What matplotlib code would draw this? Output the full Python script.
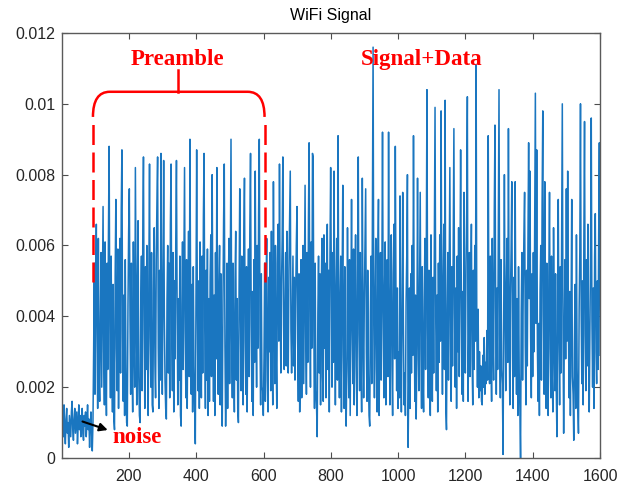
import numpy as np
import matplotlib.pyplot as plt
from matplotlib.path import Path
from matplotlib.patches import PathPatch

plt.rcParams['font.family'] = ['Liberation Sans', 'DejaVu Sans']

# %% data (amplitude in units of 1e-4, one value every ~2 samples)

noise_vals = [9, 13, 6, 15, 8, 4, 11, 14, 7, 10,
              3, 12, 9, 6, 13, 16, 8, 5, 11, 14,
              7, 10, 13, 4, 9, 15, 8, 12, 6, 11,
              14, 7, 5, 12, 9, 13, 6, 10, 15, 8,
              11, 3, 9, 13, 7, 2, 10]

preamble_vals = [
    # 95 - 199
    30, 55, 18, 48, 66, 35, 14, 62, 24, 16, 40, 58, 20, 47, 71, 30, 15, 61, 27, 12,
    55, 25, 63, 88, 38, 17, 57, 28, 13, 49, 11, 8, 52, 73, 31, 19, 59, 14, 48, 62,
    24, 70, 87, 36, 16, 46, 12, 56, 26, 10, 9, 43, 64,
    # 200 - 299
    76, 40, 18, 55, 26, 13, 61, 33, 20, 82, 50, 15, 48, 67, 23, 12, 10, 44, 57, 19,
    63, 85, 36, 14, 54, 25, 60, 30, 12, 51, 83, 34, 20, 58, 15, 13, 47, 65, 27, 17,
    56, 72, 85, 31, 14, 53, 22, 86, 45, 18,
    # 300 - 399
    48, 84, 40, 22, 14, 11, 45, 60, 24, 55, 17, 66, 83, 35, 19, 58, 13, 50, 28, 62,
    84, 42, 15, 45, 22, 57, 12, 9, 43, 61, 25, 52, 82, 36, 17, 56, 14, 44, 64, 23,
    90, 47, 18, 49, 13, 54, 26, 14, 4, 46,
    # 400 - 499
    87, 44, 19, 50, 14, 61, 30, 17, 57, 24, 68, 86, 37, 14, 53, 22, 59, 12, 45, 16,
    51, 63, 23, 80, 42, 16, 46, 12, 58, 28, 82, 44, 18, 47, 60, 15, 52, 24, 9, 43,
    67, 83, 32, 9, 22, 55, 14, 48, 62, 21,
    # 500 - 599
    58, 90, 34, 17, 55, 26, 13, 50, 64, 22, 45, 14, 10, 48, 76, 40, 19, 57, 28, 15,
    62, 79, 33, 18, 54, 13, 43, 59, 23, 65, 86, 38, 16, 47, 12, 56, 27, 81, 41, 20,
    60, 31, 69, 90, 35, 15, 52, 20, 19, 12,
]

data_vals = [
    # 600 - 699
    28, 55, 16, 47, 62, 22, 13, 51, 30, 58, 19, 64, 34, 15, 78, 40, 21, 60, 29, 14,
    55, 66, 33, 83, 45, 24, 49, 62, 85, 38, 25, 42, 58, 26, 64, 33, 24, 53, 68, 81,
    36, 24, 40, 57, 26, 51, 22, 44, 60, 71,
    # 700 - 799
    33, 16, 52, 13, 26, 56, 17, 43, 60, 21, 50, 77, 34, 18, 58, 27, 67, 89, 42, 20,
    61, 31, 86, 85, 36, 14, 55, 19, 15, 6, 41, 57, 24, 52, 15, 46, 62, 23, 16, 63,
    31, 55, 17, 48, 66, 25, 53, 13, 58, 82,
    # 800 - 899
    50, 20, 58, 27, 81, 43, 15, 47, 62, 22, 91, 40, 17, 45, 57, 13, 49, 77, 29, 14,
    54, 18, 9, 25, 65, 34, 17, 56, 12, 43, 73, 37, 21, 59, 15, 47, 63, 26, 12, 54,
    85, 35, 19, 58, 28, 13, 79, 40, 17, 45,
    # 900 - 999
    60, 76, 30, 16, 53, 24, 12, 9, 41, 57, 21, 68, 116, 38, 17, 46, 62, 25, 13, 55,
    73, 12, 44, 58, 22, 49, 92, 41, 17, 47, 61, 15, 43, 56, 23, 92, 39, 15, 45, 63,
    26, 12, 52, 66, 28, 88, 45, 19, 48, 14,
    # 1000 - 1099
    30, 17, 74, 33, 13, 39, 75, 38, 15, 24, 12, 44, 57, 80, 3, 21, 48, 14, 52, 24,
    60, 29, 91, 43, 16, 46, 11, 28, 79, 39, 19, 47, 75, 31, 14, 54, 23, 13, 45, 62,
    25, 56, 104, 37, 17, 53, 22, 12, 63, 32,
    # 1100 - 1199
    16, 51, 24, 60, 99, 40, 19, 46, 13, 55, 27, 63, 33, 98, 44, 18, 49, 66, 25, 101,
    14, 8, 42, 58, 22, 50, 82, 35, 16, 54, 26, 61, 93, 41, 20, 48, 14, 57, 30, 65,
    23, 51, 87, 48, 18, 47, 16, 75, 37, 24,
    # 1200 - 1299
    55, 70, 102, 16, 32, 58, 23, 49, 66, 28, 15, 53, 25, 60, 33, 111, 38, 20, 42, 17,
    30, 19, 26, 16, 15, 29, 20, 34, 18, 27, 21, 36, 22, 91, 40, 21, 57, 30, 16, 62,
    34, 22, 70, 94, 43, 18, 48, 25, 64, 104,
    # 1300 - 1399
    35, 17, 56, 25, 21, 1, 44, 80, 40, 19, 49, 62, 27, 93, 43, 15, 46, 59, 78, 30,
    14, 51, 23, 78, 38, 18, 45, 12, 54, 24, 14, 0, 41, 58, 22, 48, 63, 75, 32, 15,
    53, 26, 61, 89, 45, 81, 34, 17, 52, 23,
    # 1400 - 1499
    58, 30, 65, 103, 38, 87, 32, 16, 38, 12, 47, 60, 22, 72, 98, 41, 18, 78, 33, 14,
    55, 27, 12, 51, 75, 31, 17, 57, 23, 13, 65, 36, 19, 52, 20, 6, 39, 73, 34, 15,
    54, 24, 62, 100, 37, 7, 35, 56, 28, 76,
    # 1500 - 1600
    33, 81, 40, 17, 47, 12, 40, 73, 23, 18, 5, 33, 49, 14, 63, 25, 15, 7, 42, 58,
    100, 42, 21, 50, 15, 61, 95, 35, 19, 56, 26, 66, 32, 13, 37, 59, 96, 39, 20, 48,
    14, 57, 69, 30, 21, 50, 25, 62, 89, 29,
]

xticks = [200, 400, 600, 800, 1000, 1200, 1400, 1600]
yticks = [0, 0.002, 0.004, 0.006, 0.008, 0.01, 0.012]
ytick_labels = ['0', '0.002', '0.004', '0.006', '0.008', '0.01', '0.012']

amp = np.array(noise_vals + preamble_vals + data_vals) * 1e-4
samples = np.linspace(1, 1600, len(amp))

# %% plot

fig = plt.figure(figsize=(6.18, 4.88), dpi=100)
ax = fig.add_axes([0.1003, 0.0615, 0.8706, 0.8709])

ax.plot(samples, amp, color='#1a76c0', lw=1.1)

ax.set_xlim(1, 1600)
ax.set_ylim(0, 0.012)
ax.set_xticks(xticks)
ax.set_xticklabels([str(t) for t in xticks])
ax.set_yticks(yticks)
ax.set_yticklabels(ytick_labels)
ax.tick_params(direction='in', length=4, width=0.8, color='#4d4d4d',
               labelcolor='#262626', labelsize=11.5, top=True, right=True)
ax.tick_params(axis='x', pad=8)
ax.tick_params(axis='y', pad=5)
for sp in ax.spines.values():
    sp.set_color('#5a5a5a')
    sp.set_linewidth(1.0)

ax.set_title('WiFi Signal', fontsize=11.5, pad=9)

# red annotations
red_font = dict(family='Liberation Serif', weight='bold', size=16.5, color='red')
ax.text(345, 0.0111, 'Preamble', ha='center', va='baseline', **red_font)
ax.text(1070, 0.0111, 'Signal+Data', ha='center', va='baseline', **red_font)
ax.text(150, 0.00042, 'noise', ha='left', va='baseline', **red_font)

# preamble bracket
left_x, right_x, mid_x = 93, 603, 345
y_lo, y_corner, y_top, y_stem = 0.00497, 0.00963, 0.01034, 0.01096
ax.plot([left_x, left_x], [y_lo, y_corner], color='red', lw=1.8, dashes=(8, 3))
ax.plot([right_x, right_x], [y_lo, y_corner], color='red', lw=1.8, dashes=(8, 3))
verts = [(left_x, y_corner), (left_x, y_top), (left_x + 50, y_top),
         (right_x - 50, y_top), (right_x, y_top), (right_x, y_corner)]
codes = [Path.MOVETO, Path.CURVE3, Path.CURVE3,
         Path.LINETO, Path.CURVE3, Path.CURVE3]
ax.add_patch(PathPatch(Path(verts, codes), fill=False, edgecolor='red', lw=1.8))
ax.plot([mid_x, mid_x], [y_top, y_stem], color='red', lw=1.8)

# noise arrow
ax.annotate('', xy=(137, 0.00079), xytext=(62, 0.00103),
            arrowprops=dict(arrowstyle='-|>', color='black', lw=1.5,
                            mutation_scale=12, shrinkA=0, shrinkB=0))

fig.savefig('out.png', dpi=100)
